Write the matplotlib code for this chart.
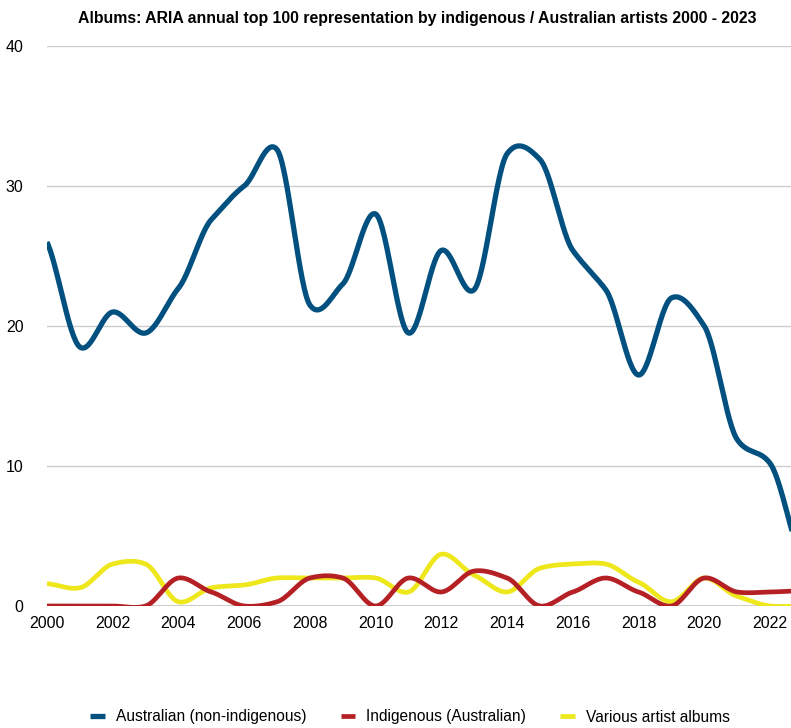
import numpy as np
import matplotlib.pyplot as plt

years = list(range(2000, 2024))
australian = [26, 18.5, 21, 19.5, 22.7, 27.6, 30, 32.6, 21.5, 23, 28, 19.5,
              25.4, 22.6, 32.3, 31.9, 25.4, 22.6, 16.5, 22, 20, 11.9, 10.2, 3]
indigenous = [0, 0, 0, 0, 2, 1, 0, 0.3, 2, 2, 0, 2,
              1, 2.5, 2, 0, 1, 2, 1, 0, 2, 1, 1, 1.1]
various = [1.6, 1.3, 3, 3, 0.3, 1.3, 1.5, 2, 2, 2, 2, 1,
           3.7, 2.2, 1, 2.7, 3, 3, 1.7, 0.3, 2, 0.7, 0, 0]

labels = ["Australian (non-indigenous)", "Indigenous (Australian)", "Various artist albums"]
colors = ["#02507f", "#b52025", "#ede71b"]
title = "Albums: ARIA annual top 100 representation by indigenous / Australian artists 2000 - 2023"


def smooth(x, y, k=0.7, steps=30):
    # cardinal-spline curve through every point, like the source app draws
    x = np.asarray(x, float)
    y = np.asarray(y, float)
    m = np.empty_like(y)
    m[1:-1] = k * (y[2:] - y[:-2]) / 2
    m[0] = k * (y[1] - y[0])
    m[-1] = k * (y[-1] - y[-2])
    xs, ys = [], []
    t = np.linspace(0, 1, steps, endpoint=False)
    for i in range(len(x) - 1):
        h00 = 2 * t**3 - 3 * t**2 + 1
        h10 = t**3 - 2 * t**2 + t
        h01 = -2 * t**3 + 3 * t**2
        h11 = t**3 - t**2
        xs.append(x[i] + t * (x[i + 1] - x[i]))
        ys.append(h00 * y[i] + h10 * m[i] + h01 * y[i + 1] + h11 * m[i + 1])
    xs.append([x[-1]])
    ys.append([y[-1]])
    return np.concatenate(xs), np.concatenate(ys)


plt.rcParams["font.family"] = ["Liberation Sans", "DejaVu Sans"]

fig = plt.figure(figsize=(7.91, 7.28), dpi=100)
ax = fig.add_axes([47 / 791, 1 - 606 / 728, 1 - 47 / 791, 560 / 728])

series = [australian, indigenous, various]
widths = [3.8, 3.4, 3.4]
zorders = [4, 4, 3]
for vals, lab, col, lw, z in zip(series, labels, colors, widths, zorders):
    sx, sy = smooth(years, vals)
    ax.plot(sx, sy, color=col, lw=lw, label=lab, zorder=z, solid_capstyle="butt")

ax.set_xlim(2000, 2022.64)
ax.set_ylim(0, 40)
ax.set_yticks([0, 10, 20, 30, 40])
ax.set_xticks(range(2000, 2023, 2))
ax.grid(axis="y", color="#cccccc", lw=1)
ax.set_axisbelow(True)
ax.axhline(0, color="#222222", lw=1, zorder=2)
for s in ax.spines.values():
    s.set_visible(False)
ax.tick_params(axis="y", length=0, pad=17, labelsize=11.5)
ax.tick_params(axis="x", length=0, pad=7, labelsize=11.5)

fig.text(0.527, 1 - 18 / 728, title, ha="center", va="center",
         fontsize=11.4, fontweight="bold")

fig.legend(loc="center", bbox_to_anchor=(410 / 791, 1 - 717 / 728), ncol=3,
           frameon=False, handlelength=0.95, columnspacing=2.2, handletextpad=0.7,
           fontsize=11.2)

fig.savefig("out.png", dpi=100)
